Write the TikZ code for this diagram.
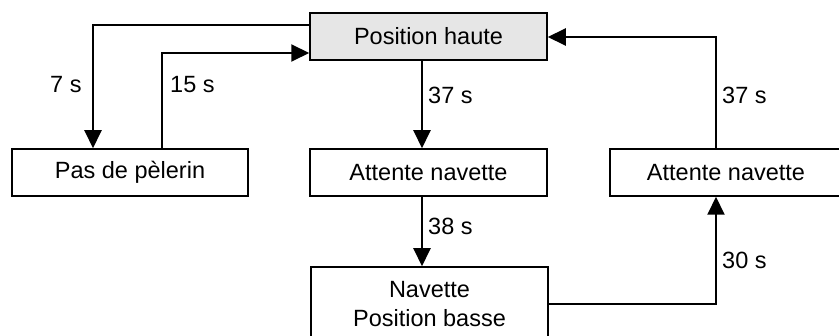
\documentclass[tikz,border=0pt]{standalone}
\usepackage{fontspec}
\setmainfont{Liberation Sans}
\usetikzlibrary{arrows.meta}
\begin{document}
\begin{tikzpicture}[x=1pt,y=-1pt,
  every node/.style={font=\fontsize{23.5}{28}\selectfont, inner sep=0pt},
  box/.style={draw=black, line width=1.5pt, minimum height=47pt, align=center},
  arr/.style={line width=2pt, -{Triangle[length=18pt,width=17pt]}},
  lbl/.style={anchor=west}]
\useasboundingbox (0,0) rectangle (839,336);
\clip (0,0) rectangle (839,336);
\fill[white] (0,0) rectangle (839,336);

% state boxes
\node[box, fill={rgb,255:red,230;green,230;blue,230}, minimum width=237pt] (ph) at (428.5,36.5) {Position haute};
\node[box, minimum width=236pt] (pas) at (130,172.5) {Pas de pèlerin};
\node[box, minimum width=237pt] (att1) at (428.5,172.5) {Attente navette};
\node[box, minimum width=232pt] (att2) at (726,172.5) {Attente navette};
\node[box, minimum width=237pt, minimum height=74pt] (nav) at (429.5,304) {Navette\\[1pt]Position basse};

% routing points
\coordinate (c7) at (93,25);
\coordinate (c15) at (162,53);
\coordinate (cmid) at (422,0);
\coordinate (cr) at (716,37);
\coordinate (cb) at (716,304);

% connectors
\draw[arr] (ph.west |- c7) -| (pas.north -| c7);
\draw[arr] (pas.north -| c15) |- (ph.west |- c15);
\draw[arr] (ph.south -| cmid) -- (att1.north -| cmid);
\draw[arr] (att2.north -| cr) |- (ph.east |- cr);
\draw[arr] (att1.south -| cmid) -- (nav.north -| cmid);
\draw[arr] (nav.east |- cb) -| (att2.south -| cb);

% durations
\node[lbl] (l7) at (50,85) {7 s};
\node[lbl] (l15) at (170,85) {15 s};
\node[lbl] (l37a) at (428,95) {37 s};
\node[lbl] (l37b) at (722,95) {37 s};
\node[lbl] (l38) at (428,226) {38 s};
\node[lbl] (l30) at (722,260) {30 s};
\end{tikzpicture}
\end{document}
